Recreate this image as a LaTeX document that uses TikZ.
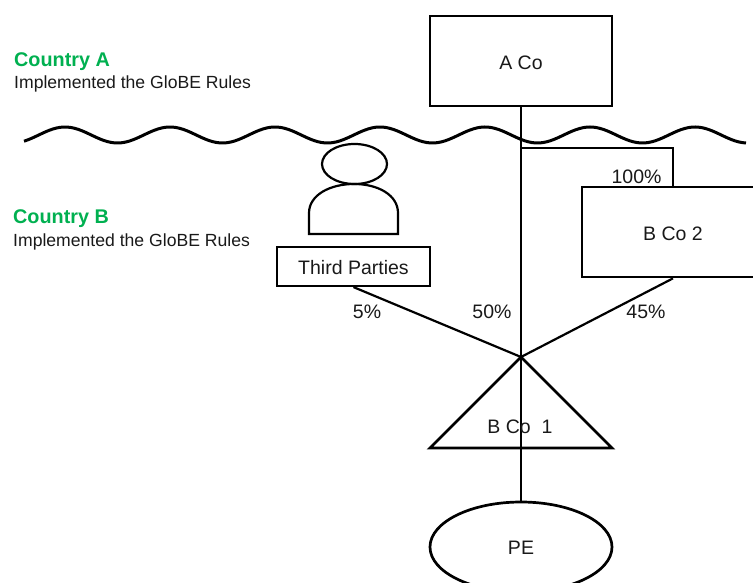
\documentclass[tikz,border=0pt]{standalone}
\usepackage{fontspec}
\setmainfont{Liberation Sans}
\usetikzlibrary{shapes.geometric}
\definecolor{cgreen}{RGB}{0,176,80}
\tikzset{
  px/.style={x=1pt,y=-1pt},
  thick line/.style={line width=2.7pt,black},
  mid line/.style={line width=2.2pt,black},
  lab/.style={font=\fontsize{19.5}{22}\selectfont,text=black!90,inner sep=0pt},
  small/.style={font=\fontsize{17.6}{20}\selectfont,text=black!90,inner sep=0pt,anchor=west},
  head/.style={font=\bfseries\fontsize{19.8}{23}\selectfont,text=cgreen,inner sep=0pt,anchor=west},
}
\begin{document}
\begin{tikzpicture}[px]
\useasboundingbox (0,0) rectangle (753,583);
\begin{scope}
\clip (0,0) rectangle (753,583);
% wave
\draw[line width=3pt,black] plot[domain=24:746,samples=200,smooth] (\x,{135-8*cos((\x-65)/105*360)});
% boxes
\node[draw,thick line,inner sep=0pt,minimum width=182pt,minimum height=90pt] (aco) at (521,61) {};
\node[draw,thick line,inner sep=0pt,minimum width=182pt,minimum height=90pt] (bco2) at (673,232) {};
\node[draw,mid line,inner sep=0pt,minimum width=153pt,minimum height=39pt] (tp) at (353.5,266.5) {};
\node[draw,thick line,ellipse,inner sep=0pt,minimum width=182pt,minimum height=90pt] (pe) at (521,547) {};
\coordinate (apex) at (521,357);
\coordinate (bl) at (430,448);
\coordinate (br) at (612,448);
\coordinate (elbow1) at (521,148);
\coordinate (elbow2) at (673,148);
\node[draw,mid line,ellipse,inner sep=0pt,minimum width=65pt,minimum height=40pt] (headp) at (354.5,164) {};
% triangle
\draw[thick line,line join=miter] (apex) -- (br) -- (bl) -- cycle;
% connectors
\draw[mid line] (aco.south) -- (pe.north);
\draw[mid line] (elbow1) -- (elbow2) -- (bco2.north);
\draw[mid line] (tp.south) -- (apex);
\draw[mid line] (bco2.south) -- (apex);
% person body
\draw[mid line] (309,234) -- (309,213) .. controls (309,195) and (330,184) .. (354,184) .. controls (378,184) and (398,195) .. (398,213) -- (398,234) -- cycle;
% labels
\node[lab] at (521,63) {A Co};
\node[lab] at (673,234) {B Co 2};
\node[lab] at (353.5,268) {Third Parties};
\node[lab] at (521,547.5) {PE};
\node[lab] (b1) at (520,427) {B Co\ \ 1};
\node[lab] (p100) at (636.5,176.5) {100\%};
\node[lab] (p5) at (367,312) {5\%};
\node[lab] (p50) at (492,312) {50\%};
\node[lab] (p45) at (646,312) {45\%};
\node[head] (ca) at (14,61.5) {Country A};
\node[small] (ia) at (14,84) {Implemented the GloBE Rules};
\node[head] (cb) at (13,218.5) {Country B};
\node[small] (ib) at (13,242) {Implemented the GloBE Rules};
\end{scope}
\end{tikzpicture}
\end{document}
